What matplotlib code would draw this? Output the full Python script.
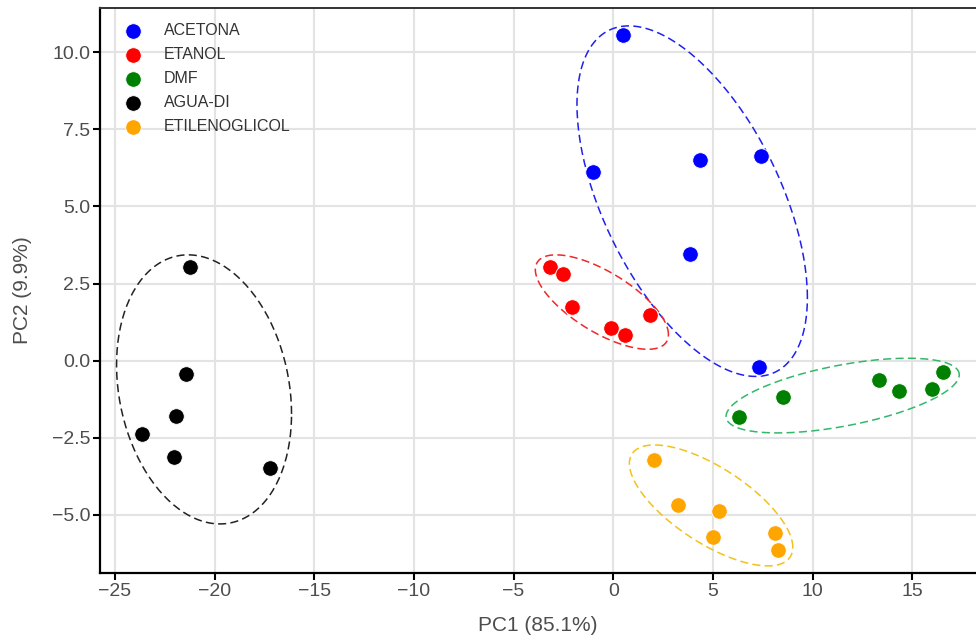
import numpy as np
import matplotlib.pyplot as plt

plt.rcParams['font.family'] = ['Liberation Sans', 'DejaVu Sans']

groups = ["ACETONA", "ETANOL", "DMF", "AGUA-DI", "ETILENOGLICOL"]
point_colors = ["#0000FF", "#FF0000", "#008000", "#000000", "#FFA500"]
ellipse_colors = ["#2020F0", "#F02828", "#33B86A", "#222222", "#F2C21A"]

pc1 = {
    "ACETONA": [0.47, -1.00, 4.33, 7.42, 3.86, 7.33],
    "ETANOL": [-3.16, -2.54, -2.07, -0.10, 0.60, 1.85],
    "DMF": [6.33, 8.51, 13.35, 14.35, 15.97, 16.53],
    "AGUA-DI": [-21.24, -21.45, -21.94, -23.62, -22.02, -17.23],
    "ETILENOGLICOL": [2.02, 3.26, 5.33, 5.03, 8.12, 8.27],
}
pc2 = {
    "ACETONA": [10.56, 6.12, 6.51, 6.64, 3.46, -0.21],
    "ETANOL": [3.03, 2.81, 1.73, 1.07, 0.82, 1.48],
    "DMF": [-1.84, -1.19, -0.63, -0.97, -0.93, -0.38],
    "AGUA-DI": [3.05, -0.43, -1.78, -2.38, -3.13, -3.49],
    "ETILENOGLICOL": [-3.22, -4.67, -4.87, -5.72, -5.58, -6.14],
}

# ellipses: centre, half width, half height,
# and x offset of the topmost point from the centre (all in data units)
ell_cx = [3.96, -0.57, 11.51, -20.53, 4.91]
ell_cy = [5.17, 1.90, -1.13, -0.93, -4.69]
ell_hx = [5.78, 3.34, 5.85, 4.39, 4.10]
ell_hy = [5.68, 1.53, 1.21, 4.36, 1.96]
ell_top_dx = [-3.18, -2.30, 3.26, -0.80, -2.84]


def ellipse_path(cx, cy, hx, hy, top_dx, n=200):
    sxy = top_dx * hy
    shape = np.array([[hx ** 2, sxy], [sxy, hy ** 2]])
    L = np.linalg.cholesky(shape)
    t = np.linspace(0, 2 * np.pi, n)
    circ = np.vstack([np.cos(t), np.sin(t)])
    pts = L @ circ
    return cx + pts[0], cy + pts[1]


fig = plt.figure(figsize=(9.76, 6.39), dpi=100)
ax = fig.add_axes([100 / 976, 66 / 639, 1 - 100 / 976, 565 / 639])

for i, (g, pc, ec) in enumerate(zip(groups, point_colors, ellipse_colors)):
    ax.scatter(pc1[g], pc2[g], s=125, color=pc, edgecolor='white', linewidth=0.6,
               label=g, zorder=3)
    ex, ey = ellipse_path(ell_cx[i], ell_cy[i], ell_hx[i], ell_hy[i], ell_top_dx[i])
    ax.plot(ex, ey, color=ec, linestyle=(0, (5.3, 2.8)), linewidth=1.1, zorder=2)

ax.set_xlim(-25.75, 18.2)
ax.set_ylim(-6.88, 11.43)
ax.set_xticks([-25, -20, -15, -10, -5, 0, 5, 10, 15])
ax.set_xticklabels(['\u221225', '\u221220', '\u221215', '\u221210', '\u22125', '0', '5', '10', '15'])
ax.set_yticks([-5, -2.5, 0, 2.5, 5, 7.5, 10])
ax.set_yticklabels(['\u22125.0', '\u22122.5', '0.0', '2.5', '5.0', '7.5', '10.0'])

ax.grid(True, color='#E3E3E3', linewidth=1.5)
ax.set_axisbelow(True)
ax.spines['right'].set_visible(False)
for s in ['left', 'bottom']:
    ax.spines[s].set_linewidth(1.6)
    ax.spines[s].set_color('black')
ax.spines['top'].set_color('#333333')
ax.spines['top'].set_linewidth(1.4)
ax.tick_params(axis='both', length=5, width=1.5, color='black',
               labelsize=14, labelcolor='#4D4D4D', pad=2)

ax.set_xlabel('PC1 (85.1%)', fontsize=15, color='#4D4D4D', labelpad=12)
ax.set_ylabel('PC2 (9.9%)', fontsize=15, color='#4D4D4D', labelpad=14)

ax.legend(loc='upper left', frameon=False, fontsize=11.5, markerscale=1.0,
          handlelength=1.0, handletextpad=1.45, labelspacing=0.57,
          borderpad=0, borderaxespad=0,
          bbox_to_anchor=(125 / 976, 1 - 23 / 639), bbox_transform=fig.transFigure,
          labelcolor='#333333')

fig.savefig('out.png', dpi=100)
